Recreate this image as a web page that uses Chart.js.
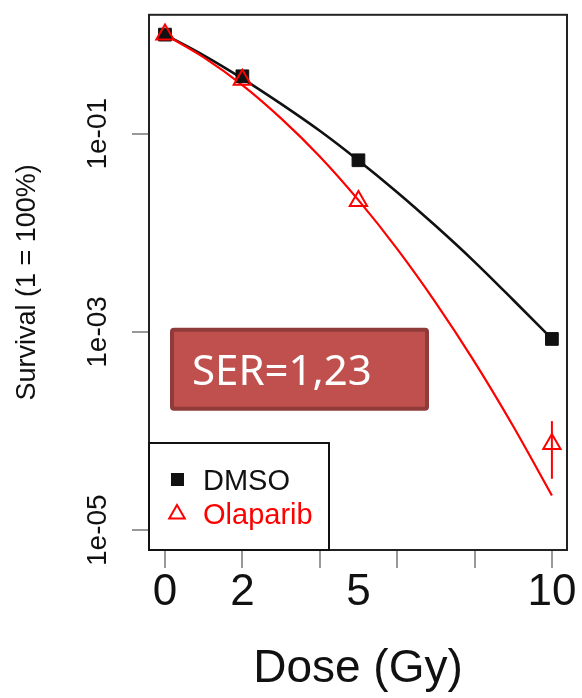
<!DOCTYPE html>
<html>
<head>
<meta charset="utf-8">
<script src="https://cdn.jsdelivr.net/npm/chart.js@4"></script>
<style>
html,body{margin:0;padding:0;background:#fff;}
#wrap{position:relative;width:582px;height:698px;}
</style>
</head>
<body>
<div id="wrap"><canvas id="c"></canvas></div>
<script>
// ---- data ----
const doses = [0, 2, 5, 10];
const dmsoSurvival = [1.0, 0.38, 0.054, 0.00085];
const olaparibSurvival = [1.0, 0.35, 0.021, 0.000074];
const olaparibErrLow = [null, null, null, 0.000033];
const olaparibErrHigh = [null, null, null, 0.000126];
const fitDoses = [0, 1, 2, 3, 4, 5, 6, 7, 8, 9, 10];
const dmsoFit = [1, 0.617, 0.36, 0.20, 0.107, 0.0537, 0.0257, 0.0117, 0.0051, 0.0021, 0.00085];
const olaparibFit = [1, 0.59, 0.31, 0.143, 0.059, 0.0214, 0.0069, 0.00197, 0.0005, 0.000112, 0.0000224];
const xTickValues = [0, 2, 4, 5, 6, 8, 10];
const xTickMarks = [0, 2, 4, 6, 8, 10];
const xTickLabelValues = [0, 2, 5, 10];
const xTickLabels = ['0', '2', '5', '10'];
const yTickValues = [1e-5, 1e-3, 1e-1];
const yTickLabels = ['1e-05', '1e-03', '1e-01'];
const seriesNames = ['DMSO', 'Olaparib'];
const annotationText = 'SER=1,23';
const xTitle = 'Dose (Gy)';
const yTitle = 'Survival (1 = 100%)';

const BLACK = '#111111';
const RED = '#FF0000';
const FONT = "'Liberation Sans', Arial, Helvetica, sans-serif";
Chart.defaults.font.family = FONT;
Chart.defaults.color = '#111';

const pts = (xs, ys) => xs.map((x, i) => ({x: x, y: ys[i]}));

const decorPlugin = {
  id: 'decor',
  afterDatasetsDraw(chart) {
    const {ctx, chartArea: a, scales: {x, y}} = chart;
    ctx.save();
    // error bars
    ctx.strokeStyle = RED; ctx.lineWidth = 2;
    doses.forEach((d, i) => {
      if (olaparibErrLow[i] == null) return;
      const px = x.getPixelForValue(d);
      ctx.beginPath();
      ctx.moveTo(px, y.getPixelForValue(olaparibErrLow[i]));
      ctx.lineTo(px, y.getPixelForValue(olaparibErrHigh[i]));
      ctx.stroke();
    });
    // frame
    ctx.strokeStyle = '#222'; ctx.lineWidth = 2;
    ctx.strokeRect(a.left, a.top, a.right - a.left, a.bottom - a.top);

    // SER annotation box
    const bx = a.left + 21, by = a.top + 313, bw = 259, bh = 83;
    ctx.fillStyle = '#C0504D';
    ctx.strokeStyle = '#8E3B39';
    ctx.lineWidth = 4;
    ctx.beginPath();
    if (ctx.roundRect) ctx.roundRect(bx + 2, by + 2, bw - 4, bh - 4, 2); else ctx.rect(bx + 2, by + 2, bw - 4, bh - 4);
    ctx.fill(); ctx.stroke();
    ctx.fillStyle = '#FFFFFF';
    ctx.font = "42px 'Noto Sans', 'Open Sans', sans-serif";
    ctx.textAlign = 'left'; ctx.textBaseline = 'alphabetic';
    ctx.fillText(annotationText, bx + 22, by + 57);

    // legend
    const lx = a.left, lw = 180, lh = 107, ly = a.bottom - lh;
    ctx.fillStyle = '#fff';
    ctx.fillRect(lx, ly, lw, lh);
    ctx.strokeStyle = '#111'; ctx.lineWidth = 2;
    ctx.strokeRect(lx, ly, lw, lh);
    // DMSO entry
    ctx.fillStyle = BLACK;
    ctx.fillRect(lx + 22, ly + 30, 13, 13);
    ctx.font = '29px ' + FONT;
    ctx.fillText(seriesNames[0], lx + 54, ly + 47);
    // Olaparib entry
    ctx.strokeStyle = RED; ctx.lineWidth = 2;
    const tx = lx + 28, ty = ly + 71, r = 9;
    ctx.beginPath();
    ctx.moveTo(tx, ty - r);
    ctx.lineTo(tx + r * Math.sin(2 * Math.PI / 3), ty - r * Math.cos(2 * Math.PI / 3));
    ctx.lineTo(tx + r * Math.sin(4 * Math.PI / 3), ty - r * Math.cos(4 * Math.PI / 3));
    ctx.closePath();
    ctx.stroke();
    ctx.fillStyle = RED;
    ctx.fillText(seriesNames[1], lx + 54, ly + 81);
    ctx.restore();
  }
};

new Chart(document.getElementById('c'), {
  type: 'line',
  data: {
    datasets: [
      {
        label: seriesNames[1] + ' points', data: pts(doses, olaparibSurvival), showLine: false,
        pointStyle: 'triangle', pointRadius: 10, pointBorderWidth: 2,
        pointBorderColor: RED, pointBackgroundColor: 'rgba(0,0,0,0)', borderColor: RED, order: 0
      },
      {
        label: seriesNames[0] + ' points', data: pts(doses, dmsoSurvival), showLine: false,
        pointStyle: 'rect', pointRadius: 9, pointBorderWidth: 1,
        pointBorderColor: BLACK, pointBackgroundColor: BLACK, borderColor: BLACK, order: 1
      },
      {
        label: seriesNames[1], data: pts(fitDoses, olaparibFit), borderColor: RED, borderWidth: 2.2,
        pointRadius: 0, cubicInterpolationMode: 'monotone', fill: false, order: 2
      },
      {
        label: seriesNames[0], data: pts(fitDoses, dmsoFit), borderColor: BLACK, borderWidth: 2.6,
        pointRadius: 0, cubicInterpolationMode: 'monotone', fill: false, order: 3
      }
    ]
  },
  options: {
    responsive: true,
    maintainAspectRatio: false,
    animation: false,
    events: [],
    layout: {padding: {top: 10, right: 15, left: 0, bottom: 0}},
    plugins: {legend: {display: false}, tooltip: {enabled: false}},
    scales: {
      x: {
        type: 'linear', min: -0.413, max: 10.39, bounds: 'data',
        afterBuildTicks: s => { s.ticks = xTickValues.map(v => ({value: v})); },
        afterFit: s => { s.height = 148; },
        border: {display: false},
        grid: {
          drawOnChartArea: false, drawTicks: true, tickLength: 18, lineWidth: 2,
          color: c => (c.tick && xTickMarks.includes(c.tick.value)) ? '#999' : 'rgba(0,0,0,0)',
          tickColor: c => (c.tick && xTickMarks.includes(c.tick.value)) ? '#999' : 'rgba(0,0,0,0)'
        },
        ticks: {
          autoSkip: false, maxRotation: 0, minRotation: 0, padding: -2,
          font: {size: 44}, color: '#111',
          callback: v => { const i = xTickLabelValues.indexOf(v); return i >= 0 ? xTickLabels[i] : ''; }
        },
        title: {display: true, text: xTitle, font: {size: 46}, color: '#111', padding: {top: 0, bottom: 1}}
      },
      y: {
        type: 'logarithmic', min: Math.pow(10, -5.2), max: Math.pow(10, 0.2), bounds: 'data',
        afterBuildTicks: s => { s.ticks = yTickValues.map(v => ({value: v})); },
        afterFit: s => { s.width = 149; },
        border: {display: false},
        grid: {drawOnChartArea: false, drawTicks: true, tickLength: 17, lineWidth: 2, color: '#999', tickColor: '#999'},
        ticks: {
          autoSkip: false, minRotation: 90, maxRotation: 90, crossAlign: 'center', padding: -2,
          font: {size: 28}, color: '#111',
          callback: v => { const i = yTickValues.indexOf(v); return i >= 0 ? yTickLabels[i] : ''; }
        },
        title: {display: true, text: yTitle, font: {size: 27}, color: '#111', padding: {top: 11, bottom: 0}}
      }
    }
  },
  plugins: [decorPlugin]
});
</script>
</body>
</html>
